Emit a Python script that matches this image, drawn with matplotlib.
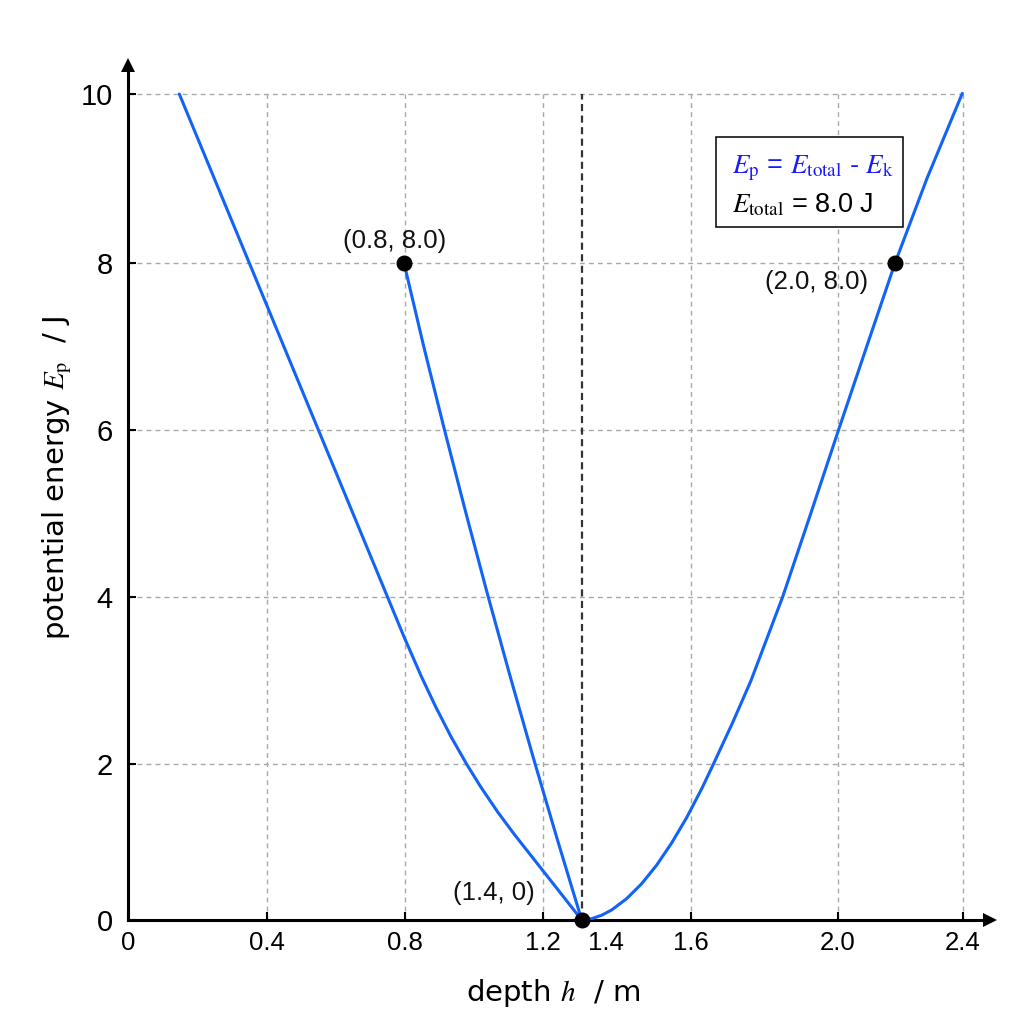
import matplotlib
matplotlib.use('Agg')
import matplotlib.pyplot as plt
from matplotlib.patches import Rectangle

plt.rcParams['font.family'] = ['Liberation Sans', 'DejaVu Sans']
plt.rcParams['mathtext.fontset'] = 'stix'

# ---- data (axis units) ----
left_h = [0.1475, 0.3487, 0.5473, 0.7456, 0.7936, 0.8439, 0.8847, 0.9290,
          0.9736, 1.0141, 1.0627, 1.1081, 1.1276, 1.1911, 1.2478, 1.3041]
left_E = [9.994, 7.949, 5.929, 3.912, 3.424, 2.940, 2.577, 2.214,
          1.884, 1.609, 1.307, 1.049, 0.944, 0.605, 0.302, 0.0]

mid_h = [0.7933, 0.8497, 0.9083, 0.9690, 1.0316, 1.0966, 1.1636, 1.2328, 1.3041]
mid_E = [7.95, 6.945, 5.953, 4.961, 3.969, 2.976, 1.984, 0.992, 0.0]

right_h = [1.3041, 1.3329, 1.3616, 1.3904, 1.4335, 1.4766, 1.5197, 1.5628, 1.6059,
           1.6491, 1.6824, 1.7382, 1.7908, 1.8819, 1.9626, 2.0423, 2.1233, 2.2047,
           2.2967, 2.3981]
right_E = [0.0, 0.016, 0.058, 0.122, 0.259, 0.440, 0.665, 0.933, 1.240,
           1.589, 1.884, 2.391, 2.898, 3.912, 4.920, 5.929, 6.939, 7.949,
           8.975, 10.002]

point_h = [0.7933, 1.3041, 2.2047]
point_E = [7.95, 0.0, 7.95]
point_labels = ['(0.8, 8.0)', '(1.4, 0)', '(2.0, 8.0)']
label_offsets = [(-9, 22), (-88, 27), (-78, -19)]

x_tick_pos = [0, 0.3987, 0.7962, 1.193, 1.617, 2.041, 2.4]
x_tick_labels = ['0', '0.4', '0.8', '1.2', '1.6', '2.0', '2.4']
x_extra_pos = [1.374]
x_extra_labels = ['1.4']
y_tick_pos = [0, 1.884, 3.912, 5.929, 7.949, 10.0]
y_tick_labels = ['0', '2', '4', '6', '8', '10']

curve_color = '#1263f7'
text_blue = '#1a1aff'

fig = plt.figure(figsize=(10.24, 10.24), dpi=100)
ax = fig.add_axes([0.125, 0.10156, 0.8418, 0.83535])
ax.set_xlim(0, 2.4777)
ax.set_ylim(0, 10.35)

# grid
for xp in x_tick_pos[1:]:
    ax.plot([xp, xp], [0, y_tick_pos[-1]], color='#a8a8a8', lw=1.0,
            ls=(0, (3.5, 3)), zorder=1)
for yp in y_tick_pos[1:]:
    ax.plot([0, x_tick_pos[-1]], [yp, yp], color='#a8a8a8', lw=1.0,
            ls=(0, (3.5, 3)), zorder=1)

# vertical dashed line through minimum
ax.plot([point_h[1], point_h[1]], [0, y_tick_pos[-1]], color='#333333', lw=1.6,
        ls=(0, (3.2, 2.0)), zorder=2)

# curves
for hh, ee in [(left_h, left_E), (mid_h, mid_E), (right_h, right_E)]:
    ax.plot(hh, ee, color=curve_color, lw=2.2, zorder=3,
            solid_capstyle='round', solid_joinstyle='round')

# points
ax.plot(point_h, point_E, 'o', color='black', ms=10.5, zorder=5, clip_on=False)
for h, e, lab, off in zip(point_h, point_E, point_labels, label_offsets):
    ax.annotate(lab, (h, e), xytext=off, textcoords='offset pixels',
                ha='center', va='center', fontsize=18.5, color='#111111')

# spines and arrows
for s in ['top', 'right']:
    ax.spines[s].set_visible(False)
for s in ['left', 'bottom']:
    ax.spines[s].set_linewidth(2.2)
ax.plot(1, 0, marker='>', ms=9.5, mew=0, color='black',
        transform=ax.get_yaxis_transform(), clip_on=False, zorder=6)
ax.plot(0, 1, marker='^', ms=9.5, mew=0, color='black',
        transform=ax.get_xaxis_transform(), clip_on=False, zorder=6)

# ticks
ax.set_xticks(x_tick_pos, labels=x_tick_labels)
ax.set_xticks(x_extra_pos, labels=x_extra_labels, minor=True)
ax.set_yticks(y_tick_pos, labels=y_tick_labels)
ax.tick_params(axis='x', which='major', direction='in', length=6, width=1.5,
               labelsize=18.5, pad=8)
ax.tick_params(axis='x', which='minor', length=0, labelsize=18.5, pad=8)
ax.tick_params(axis='y', direction='in', length=6, width=1.5, labelsize=21, pad=11)

# axis labels
ax.text(0.493, -0.0944, r'depth $h$  / m', transform=ax.transAxes,
        ha='center', va='baseline', fontsize=21, family=['DejaVu Sans'])
ax.text(-0.0742, 0.517, r'potential energy $E_\mathrm{p}$  / J', transform=ax.transAxes,
        ha='center', va='baseline', rotation=90, rotation_mode='anchor', fontsize=21,
        family=['DejaVu Sans'])

# info box
ax.add_patch(Rectangle((0.6818, 0.8097), 0.2176, 0.1057, transform=ax.transAxes,
                       facecolor='white', edgecolor='black', lw=1.1, zorder=7))
ax.text(0.7003, 0.8733, r'$E_\mathrm{p}$ = $E_\mathrm{total}$ - $E_\mathrm{k}$',
        transform=ax.transAxes, ha='left', va='baseline', fontsize=19.5,
        color=text_blue, zorder=8)
ax.text(0.7003, 0.8273, r'$E_\mathrm{total}$ = 8.0 J',
        transform=ax.transAxes, ha='left', va='baseline', fontsize=19.5,
        color='black', zorder=8)

fig.savefig('out.png', dpi=100, facecolor='white')
